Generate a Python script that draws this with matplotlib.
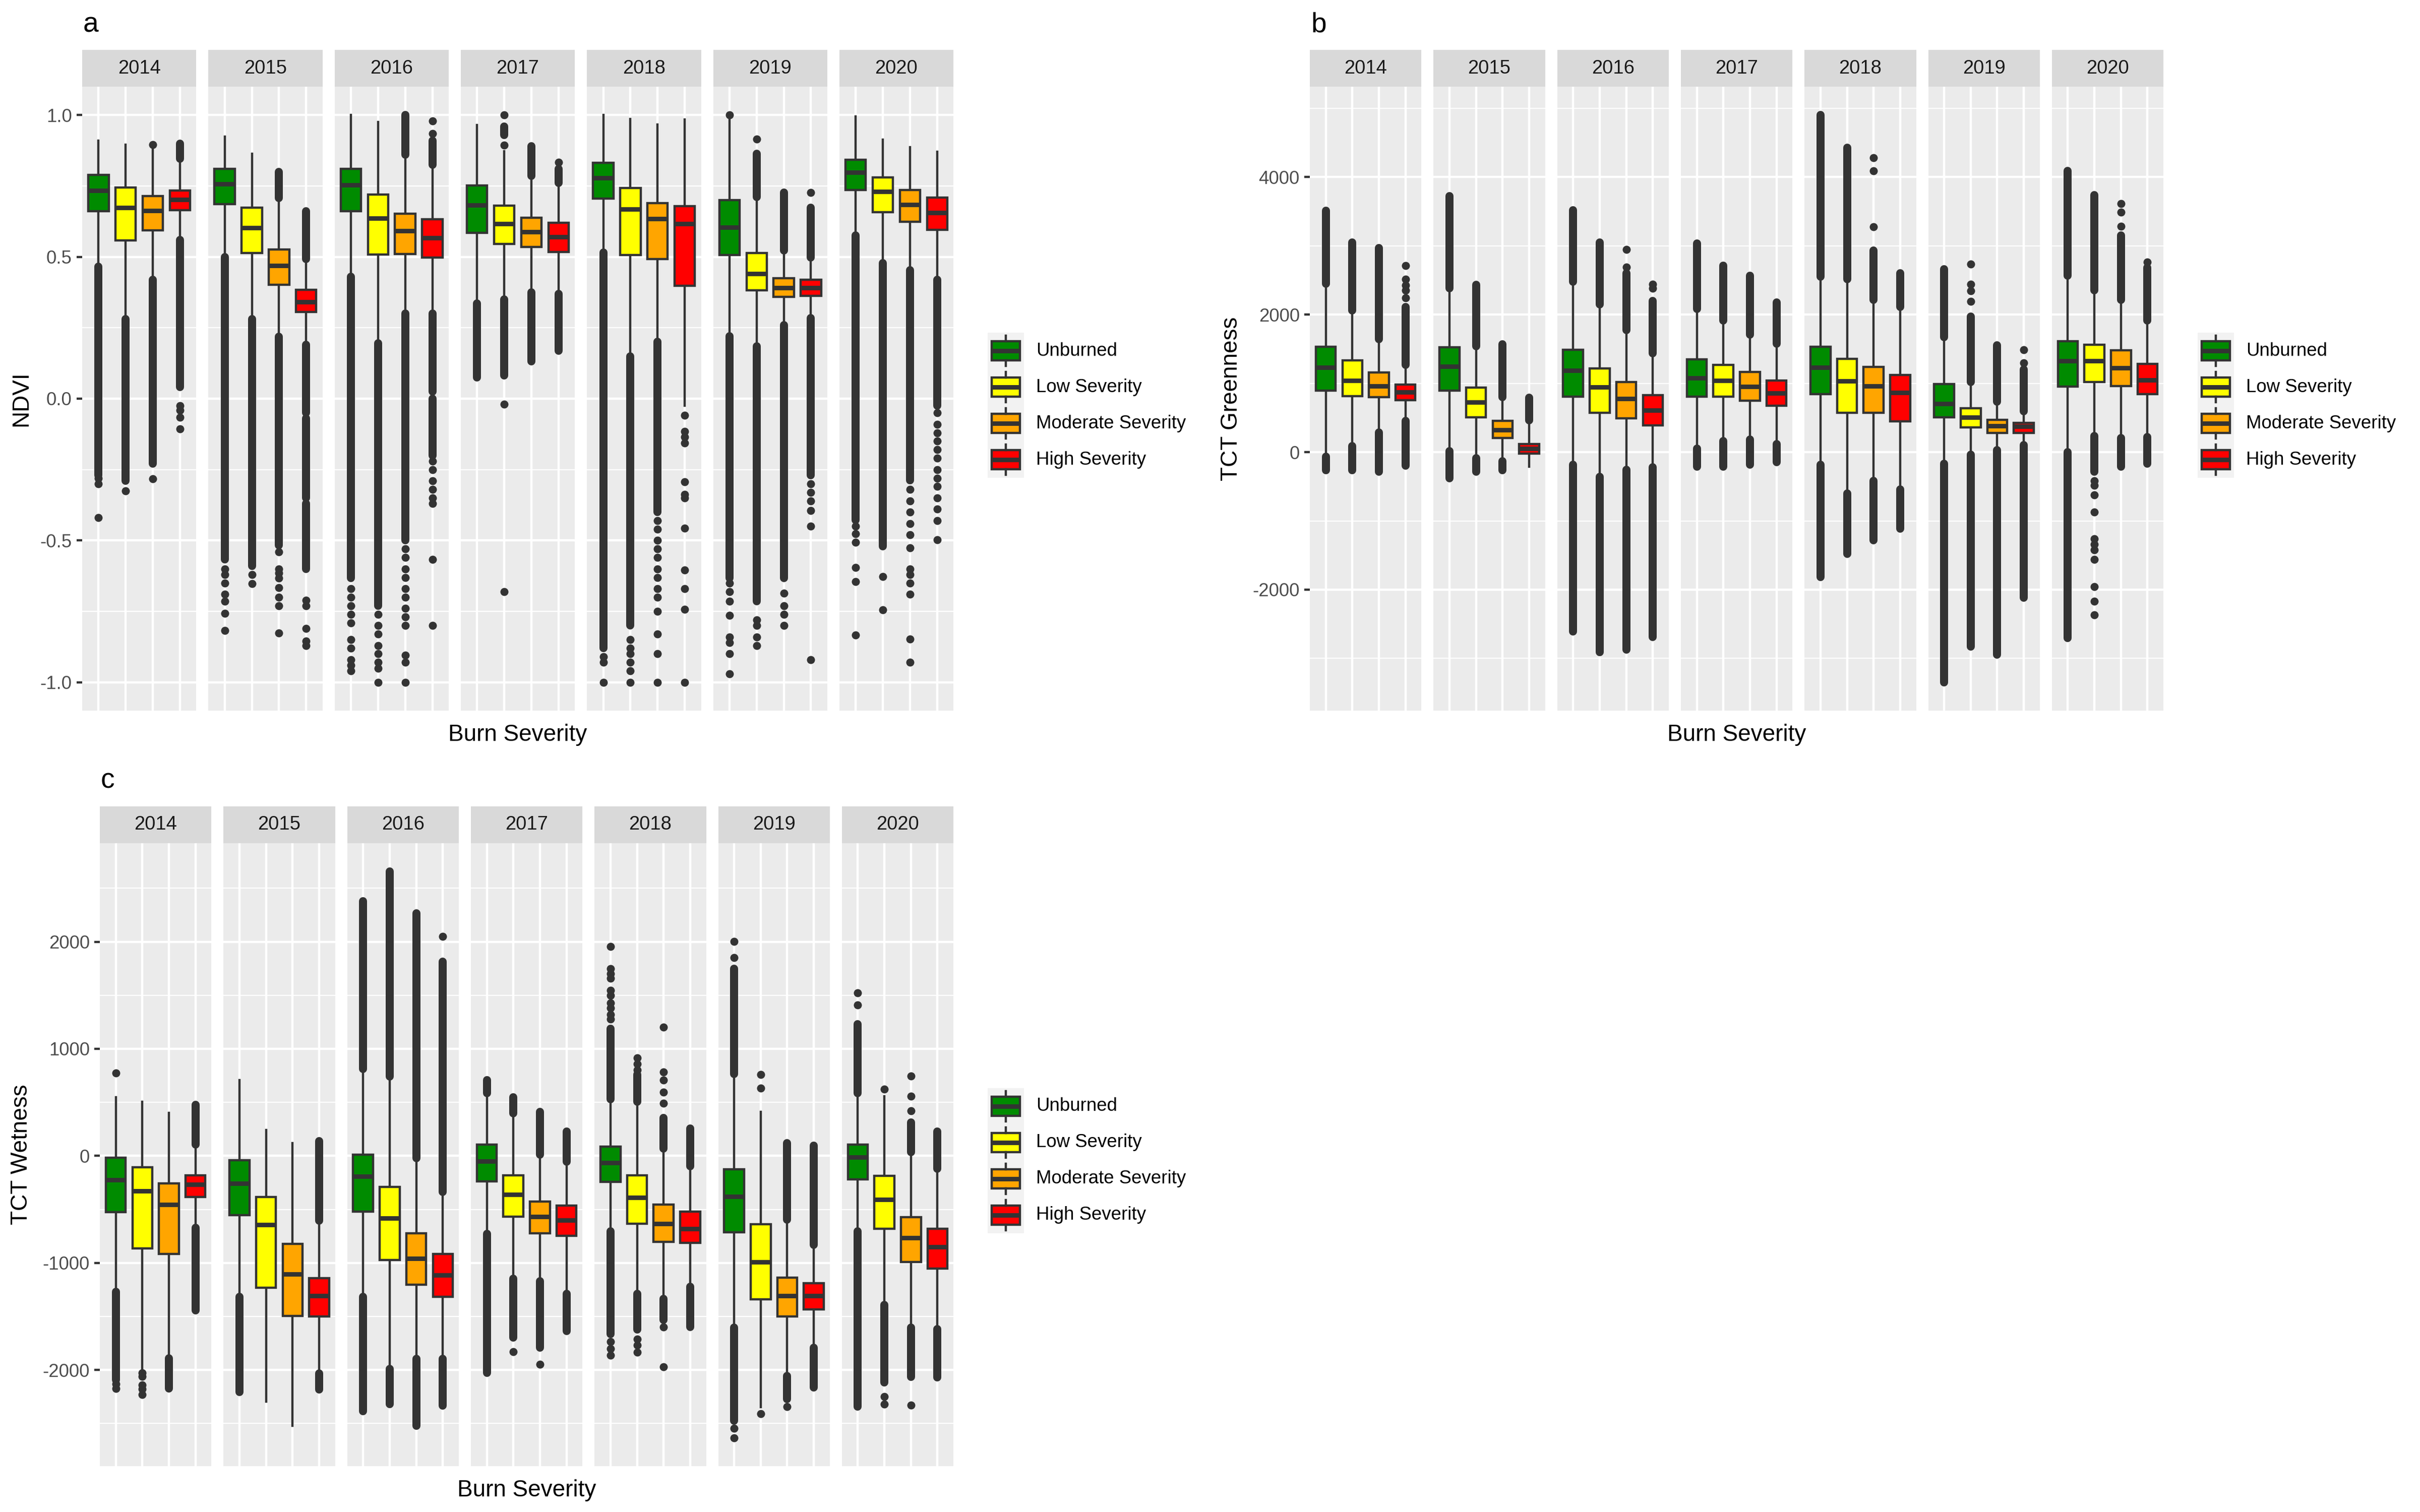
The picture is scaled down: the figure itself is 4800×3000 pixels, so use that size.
import numpy as np
import matplotlib.pyplot as plt
from matplotlib.patches import Rectangle

plt.rcParams['font.family'] = ['Liberation Sans', 'DejaVu Sans']

years = ['2014', '2015', '2016', '2017', '2018', '2019', '2020']
severities = ['Unburned', 'Low Severity', 'Moderate Severity', 'High Severity']
sev_colors = ['#008B00', '#FFFF00', '#FFA500', '#FF0000']

# --- NDVI ---
# per year, per severity: [lower whisker, q1, median, q3, upper whisker]
ndvi_stats = {
    '2014': [[0.47, 0.661, 0.734, 0.789, 0.91], [0.283, 0.558, 0.674, 0.745, 0.896],
             [0.423, 0.594, 0.663, 0.714, 0.89], [0.567, 0.664, 0.702, 0.734, 0.835]],
    '2015': [[0.505, 0.686, 0.757, 0.811, 0.924], [0.283, 0.513, 0.602, 0.674, 0.863],
             [0.222, 0.401, 0.469, 0.526, 0.70], [0.194, 0.306, 0.342, 0.383, 0.49]],
    '2016': [[0.436, 0.661, 0.753, 0.811, 1.0], [0.2, 0.508, 0.636, 0.719, 0.975],
             [0.304, 0.51, 0.592, 0.653, 0.855], [0.304, 0.497, 0.567, 0.632, 0.822]],
    '2017': [[0.34, 0.584, 0.683, 0.752, 0.965], [0.354, 0.546, 0.617, 0.681, 0.872],
             [0.378, 0.535, 0.589, 0.638, 0.78], [0.373, 0.518, 0.571, 0.62, 0.757]],
    '2018': [[0.518, 0.706, 0.778, 0.832, 1.0], [0.156, 0.507, 0.668, 0.742, 0.987],
             [0.205, 0.493, 0.635, 0.689, 0.967], [-0.025, 0.398, 0.617, 0.679, 0.984]],
    '2019': [[0.225, 0.507, 0.605, 0.70, 0.99], [0.189, 0.382, 0.441, 0.513, 0.707],
             [0.266, 0.359, 0.391, 0.424, 0.518], [0.288, 0.362, 0.391, 0.419, 0.493]],
    '2020': [[0.579, 0.735, 0.798, 0.842, 0.995], [0.482, 0.658, 0.73, 0.78, 0.913],
             [0.457, 0.623, 0.684, 0.735, 0.887], [0.424, 0.595, 0.655, 0.709, 0.87]],
}
# dense runs of outliers (lo, hi)
ndvi_bands = {
    '2014': [[(-0.27, 0.465)], [(-0.29, 0.28)], [(-0.23, 0.42)], [(0.04, 0.56), (0.845, 0.90)]],
    '2015': [[(-0.567, 0.50)], [(-0.59, 0.28)], [(-0.518, 0.218), (0.707, 0.80)],
             [(-0.05, 0.19), (-0.35, -0.07), (-0.60, -0.37), (0.493, 0.661)]],
    '2016': [[(-0.633, 0.43)], [(-0.73, 0.195)], [(0.86, 1.0), (-0.50, 0.30)],
             [(0.825, 0.91), (0.025, 0.30), (-0.20, 0.0)]],
    '2017': [[(0.074, 0.335)], [(0.082, 0.35), (0.93, 0.96)], [(0.132, 0.375), (0.785, 0.89)],
             [(0.169, 0.37), (0.76, 0.81)]],
    '2018': [[(-0.88, 0.515)], [(-0.80, 0.15)], [(-0.40, 0.20)], []],
    '2019': [[(-0.633, 0.22)], [(0.71, 0.863), (-0.715, 0.185)], [(0.522, 0.727), (-0.633, 0.26)],
             [(0.497, 0.674), (-0.27, 0.284)]],
    '2020': [[(-0.428, 0.575)], [(-0.52, 0.478)], [(-0.288, 0.453)], [(-0.025, 0.42)]],
}
# isolated outliers
ndvi_dots = {
    '2014': [[-0.28, -0.30, -0.42], [-0.326], [-0.283, 0.895], [-0.025, -0.04, -0.066, -0.107]],
    '2015': [[-0.60, -0.62, -0.65, -0.69, -0.715, -0.757, -0.817], [-0.62, -0.653],
             [-0.54, -0.60, -0.615, -0.633, -0.666, -0.70, -0.73, -0.827],
             [-0.71, -0.73, -0.81, -0.855, -0.87]],
    '2016': [[-0.67, -0.70, -0.73, -0.76, -0.79, -0.85, -0.88, -0.92, -0.94, -0.96],
             [-0.76, -0.80, -0.83, -0.87, -0.90, -0.93, -0.95, -1.0],
             [-0.53, -0.56, -0.60, -0.63, -0.67, -0.70, -0.74, -0.77, -0.80, -0.905, -0.93, -1.0],
             [0.934, 0.98, -0.22, -0.25, -0.29, -0.32, -0.35, -0.37, -0.567, -0.80]],
    '2017': [[], [0.893, 1.0, -0.02, -0.68], [], [0.834]],
    '2018': [[-0.91, -0.93, -1.0], [-0.85, -0.88, -0.90, -0.93, -0.96, -1.0],
             [-0.43, -0.46, -0.50, -0.53, -0.56, -0.60, -0.63, -0.67, -0.70, -0.75, -0.83, -0.90, -1.0],
             [-0.058, -0.115, -0.135, -0.156, -0.293, -0.337, -0.35, -0.456, -0.604, -0.67, -0.742, -1.0]],
    '2019': [[1.0, -0.65, -0.68, -0.715, -0.765, -0.84, -0.86, -0.90, -0.97],
             [0.916, -0.78, -0.80, -0.84, -0.87], [-0.686, -0.73, -0.76, -0.80],
             [0.727, -0.30, -0.33, -0.36, -0.395, -0.449, -0.92]],
    '2020': [[-0.45, -0.477, -0.507, -0.595, -0.645, -0.834], [-0.628, -0.745],
             [-0.32, -0.36, -0.40, -0.44, -0.48, -0.526, -0.60, -0.62, -0.65, -0.69, -0.847, -0.93],
             [-0.05, -0.09, -0.12, -0.15, -0.18, -0.21, -0.25, -0.28, -0.31, -0.35, -0.39, -0.43, -0.497]],
}

# --- TCT Greenness ---
green_stats = {
    '2014': [[-60, 896, 1232, 1535, 2444], [88, 815, 1044, 1333, 2054],
             [290, 801, 963, 1158, 1636], [458, 754, 875, 983, 1266]],
    '2015': [[20, 896, 1246, 1522, 2377], [-81, 505, 727, 936, 1535],
             [-128, 209, 323, 458, 795], [-215, -20, 54, 121, 458]],
    '2016': [[-182, 808, 1185, 1488, 2478], [-350, 572, 943, 1219, 2141],
             [-249, 492, 774, 1017, 1771], [-215, 391, 606, 828, 1434]],
    '2017': [[54, 808, 1077, 1347, 2074], [168, 808, 1044, 1266, 1906],
             [189, 747, 956, 1165, 1704], [121, 673, 855, 1044, 1569]],
    '2018': [[-182, 842, 1232, 1535, 2546], [-599, 572, 1037, 1360, 2512],
             [-417, 572, 963, 1239, 2209], [-539, 451, 869, 1125, 2108]],
    '2019': [[-168, 505, 707, 990, 1670], [-34, 357, 505, 640, 1017],
             [34, 276, 384, 471, 727], [108, 276, 377, 424, 593]],
    '2020': [[7, 950, 1327, 1616, 2559], [242, 1017, 1327, 1562, 2343],
             [209, 963, 1226, 1481, 2209], [222, 842, 1050, 1286, 1906]],
}
green_bands = {
    '2014': [[(2450, 3508), (-263, -65)], [(2060, 3050), (-263, 85)],
             [(1640, 2970), (-283, 285)], [(1270, 2108), (-200, 455)]],
    '2015': [[(2380, 3724), (-384, 15)], [(1540, 2431), (-283, -85)],
             [(800, 1569), (-263, -130)], [(460, 795)]],
    '2016': [[(2480, 3522), (-2606, -185)], [(2145, 3050), (-2909, -355)],
             [(1775, 2600), (-2875, -255)], [(1440, 2200), (-2687, -220)]],
    '2017': [[(2080, 3037), (-215, 50)], [(1910, 2714), (-215, 165)],
             [(1710, 2566), (-182, 185)], [(1575, 2175), (-148, 118)]],
    '2018': [[(2550, 4902), (-1818, -185)], [(2515, 4431), (-1481, -600)],
             [(2215, 2936), (-1279, -420)], [(2112, 2600), (-1111, -545)]],
    '2019': [[(1675, 2660), (-3347, -170)], [(1020, 1973), (-2828, -38)],
             [(730, 1556), (-2943, 30)], [(596, 1199), (-2114, 104)]],
    '2020': [[(2565, 4094), (-2707, 3)], [(2350, 3737), (-283, 238)],
             [(2215, 3151), (-215, 205)], [(1910, 2680), (-168, 218)]],
}
green_dots = {
    '2014': [[], [], [], [2242, 2350, 2430, 2512, 2714]],
    '2015': [[], [], [], []],
    '2016': [[], [], [2694, 2950], [2380, 2444]],
    '2017': [[], [], [], []],
    '2018': [[], [], [3279, 4094, 4283], []],
    '2019': [[], [2195, 2343, 2444, 2734], [], [1300, 1488]],
    '2020': [[], [-417, -480, -620, -875, -1259, -1340, -1420, -1562, -1953, -2168, -2370],
             [3286, 3488, 3616], [2761]],
}

# --- TCT Wetness ---
wet_stats = {
    '2014': [[-1263, -526, -225, -18, 548], [-2004, -867, -328, -108, 503],
             [-1883, -917, -454, -256, 400], [-665, -386, -265, -184, 99]],
    '2015': [[-1308, -553, -256, -40, 706], [-2296, -1231, -643, -386, 243],
             [-2521, -1497, -1106, -822, 117], [-2027, -1501, -1308, -1141, -611]],
    '2016': [[-1308, -521, -193, 9, 804], [-1982, -971, -580, -288, 737],
             [-1892, -1204, -957, -724, -27], [-1892, -1317, -1115, -917, -342]],
    '2017': [[-724, -238, -49, 103, 580], [-1141, -566, -360, -184, 391],
             [-1164, -724, -566, -427, 4], [-1285, -746, -602, -463, -58]],
    '2018': [[-701, -243, -63, 85, 526], [-1285, -634, -391, -184, 499],
             [-1330, -804, -634, -454, 63], [-1218, -813, -679, -521, -103]],
    '2019': [[-1600, -715, -378, -126, 760], [-2350, -1339, -993, -638, 413],
             [-2049, -1501, -1308, -1137, -602], [-1789, -1434, -1308, -1191, -836]],
    '2020': [[-701, -220, -13, 103, 580], [-1389, -679, -409, -189, 557],
             [-1600, -993, -768, -575, 31], [-1613, -1052, -849, -679, -126]],
}
wet_bands = {
    '2014': [[(-2094, -1270)], [], [(-2175, -1890)], [(104, 476), (-1443, -670)]],
    '2015': [[(-2207, -1315)], [], [], [(-606, 139), (-2184, -2032)]],
    '2016': [[(810, 2377), (-2386, -1315)], [(742, 2656), (-2319, -1990)],
             [(-22, 2265), (-2521, -1897)], [(-337, 1816), (-2332, -1897)]],
    '2017': [[(585, 706), (-2027, -730)], [(396, 548), (-1699, -1146)],
             [(9, 413), (-1793, -1170)], [(-53, 229), (-1636, -1290)]],
    '2018': [[(531, 1186), (-1667, -706)], [(504, 760), (-1622, -1290)],
             [(68, 355), (-1532, -1335)], [(-98, 256), (-1600, -1223)]],
    '2019': [[(765, 1748), (-2476, -1605)], [], [(-597, 117), (-2274, -2054)],
             [(-831, 94), (-2162, -1794)]],
    '2020': [[(585, 1231), (-2341, -706)], [(-2117, -1394)], [(36, 310), (-2063, -1605)],
             [(-121, 229), (-2072, -1618)]],
}
wet_dots = {
    '2014': [[773, -2130, -2175], [-2027, -2060, -2140, -2180, -2229], [], []],
    '2015': [[], [], [], []],
    '2016': [[], [], [], [2049]],
    '2017': [[], [-1829], [-1946], []],
    '2018': [[1276, 1320, 1380, 1430, 1500, 1546, 1658, 1700, 1748, 1955, -1735, -1800, -1861],
             [804, 860, 917, -1712, -1770, -1834],
             [490, 593, 706, 782, 1200, -1600, -1973], []],
    '2019': [[1852, 2004, -2544, -2634], [634, 760, -2409], [-2341], []],
    '2020': [[1411, 1523], [625, -2251, -2319], [422, 557, 746, -2328], []],
}

ndvi_ticks = [-1.0, -0.5, 0.0, 0.5, 1.0]
ndvi_labels = ['-1.0', '-0.5', '0.0', '0.5', '1.0']
green_ticks = [-2000, 0, 2000, 4000]
green_labels = ['-2000', '0', '2000', '4000']
wet_ticks = [-2000, -1000, 0, 1000, 2000]
wet_labels = ['-2000', '-1000', '0', '1000', '2000']

# figure in pixel units
W, H = 4800, 3000
fig = plt.figure(figsize=(16, 10), dpi=300)
EDGE = '#333333'
LW = 1.07


def px_axes(left, top, width, height):
    return fig.add_axes([left / W, 1 - (top + height) / H, width / W, height / H])


def minor_breaks(ticks, lo, hi):
    step = ticks[1] - ticks[0]
    cand = [ticks[0] - step / 2] + [t + step / 2 for t in ticks]
    return [c for c in cand if lo <= c <= hi]


def draw_panel(stats, bands, dots, left0, fw, top, bottom, ticks, labels,
               ylabel, ylabel_x, letter, leg_x, leg_y):
    vals = []
    for yr in years:
        for j in range(4):
            vals += stats[yr][j] + dots[yr][j]
            for b in bands[yr][j]:
                vals += list(b)
    lo, hi = min(vals), max(vals)
    pad = 0.05 * (hi - lo)
    ylim = (lo - pad, hi + pad)
    gap, strip_h = 24, 73

    for i, yr in enumerate(years):
        left = left0 + i * (fw + gap)
        ax = px_axes(left, top, fw, bottom - top)
        ax.set_facecolor('#EBEBEB')
        for sp in ax.spines.values():
            sp.set_visible(False)
        ax.set_xlim(0.4, 4.6)
        ax.set_ylim(*ylim)
        ax.set_xticks([1, 2, 3, 4])
        ax.set_yticks(ticks)
        ax.set_yticks(minor_breaks(ticks, *ylim), minor=True)
        ax.grid(True, which='major', color='white', lw=LW)
        ax.grid(True, which='minor', axis='y', color='white', lw=LW / 2)
        ax.set_axisbelow(True)
        ax.tick_params(axis='x', bottom=False, labelbottom=False)
        ax.tick_params(axis='y', which='minor', left=False)
        if i == 0:
            ax.set_yticklabels(labels)
            ax.tick_params(axis='y', which='major', length=2.64, width=LW, color=EDGE,
                           labelsize=8.8, labelcolor='#4D4D4D', pad=2.2)
        else:
            ax.tick_params(axis='y', which='major', left=False, labelleft=False)

        for j in range(4):
            x = j + 1
            wlo, q1, med, q3, whi = stats[yr][j]
            for b0, b1 in bands[yr][j]:
                ax.plot([x, x], [b0, b1], color=EDGE, lw=3.84, solid_capstyle='round', zorder=2)
            if dots[yr][j]:
                ax.plot([x] * len(dots[yr][j]), dots[yr][j], 'o', ms=3.84, mew=0,
                        color=EDGE, zorder=2)
            ax.plot([x, x], [q3, whi], color=EDGE, lw=LW, zorder=3)
            ax.plot([x, x], [wlo, q1], color=EDGE, lw=LW, zorder=3)
            ax.add_patch(Rectangle((x - 0.375, q1), 0.75, q3 - q1, fc=sev_colors[j],
                                   ec=EDGE, lw=LW, zorder=4))
            ax.plot([x - 0.375, x + 0.375], [med, med], color=EDGE, lw=2 * LW,
                    solid_capstyle='butt', zorder=5)

        st = px_axes(left, top - strip_h, fw, strip_h)
        st.set_facecolor('#D9D9D9')
        st.set_xticks([])
        st.set_yticks([])
        for sp in st.spines.values():
            sp.set_visible(False)
        st.text(0.5, 0.5, yr, ha='center', va='center', fontsize=9.2, color='#1A1A1A',
                transform=st.transAxes)

    right = left0 + 7 * fw + 6 * gap
    fig.text((left0 + 2) / W, 1 - (top - strip_h - 36) / H, letter, fontsize=13.2,
             va='baseline', ha='left')
    fig.text((left0 + right) / 2 / W, 1 - (bottom + 60) / H, 'Burn Severity',
             fontsize=11, ha='center', va='baseline')
    fig.text(ylabel_x / W, 1 - (top + bottom) / 2 / H, ylabel, fontsize=11,
             rotation=90, ha='center', va='center')

    # legend
    key = 72
    lg = px_axes(leg_x, leg_y, key, key * 4)
    lg.set_xlim(0, key)
    lg.set_ylim(key * 4, 0)
    lg.axis('off')
    for k, name in enumerate(severities):
        y0 = k * key
        lg.add_patch(Rectangle((0, y0), key, key, fc='#F2F2F2', ec='none'))
        lg.plot([key / 2, key / 2], [y0 + 0.08 * key, y0 + 0.23 * key], color=EDGE, lw=LW)
        lg.plot([key / 2, key / 2], [y0 + 0.77 * key, y0 + 0.92 * key], color=EDGE, lw=LW)
        lg.add_patch(Rectangle((0.107 * key, y0 + 0.23 * key), 0.786 * key, 0.54 * key,
                               fc=sev_colors[k], ec=EDGE, lw=LW))
        lg.plot([0.107 * key, 0.893 * key], [y0 + key / 2, y0 + key / 2], color=EDGE, lw=2 * LW,
                solid_capstyle='butt')
        lg.text(key + 24, y0 + key / 2, name, fontsize=8.8, va='center', ha='left',
                clip_on=False)


draw_panel(ndvi_stats, ndvi_bands, ndvi_dots, 163, 226.3, 172, 1410,
           ndvi_ticks, ndvi_labels, 'NDVI', 42, 'a', 1959, 660)
draw_panel(green_stats, green_bands, green_dots, 2598, 221.3, 172, 1410,
           green_ticks, green_labels, 'TCT Greenness', 2442, 'b', 4359, 660)
draw_panel(wet_stats, wet_bands, wet_dots, 198, 221.3, 1673, 2909,
           wet_ticks, wet_labels, 'TCT Wetness', 42, 'c', 1959, 2159)

fig.savefig('out.png', dpi=300, facecolor='white')
